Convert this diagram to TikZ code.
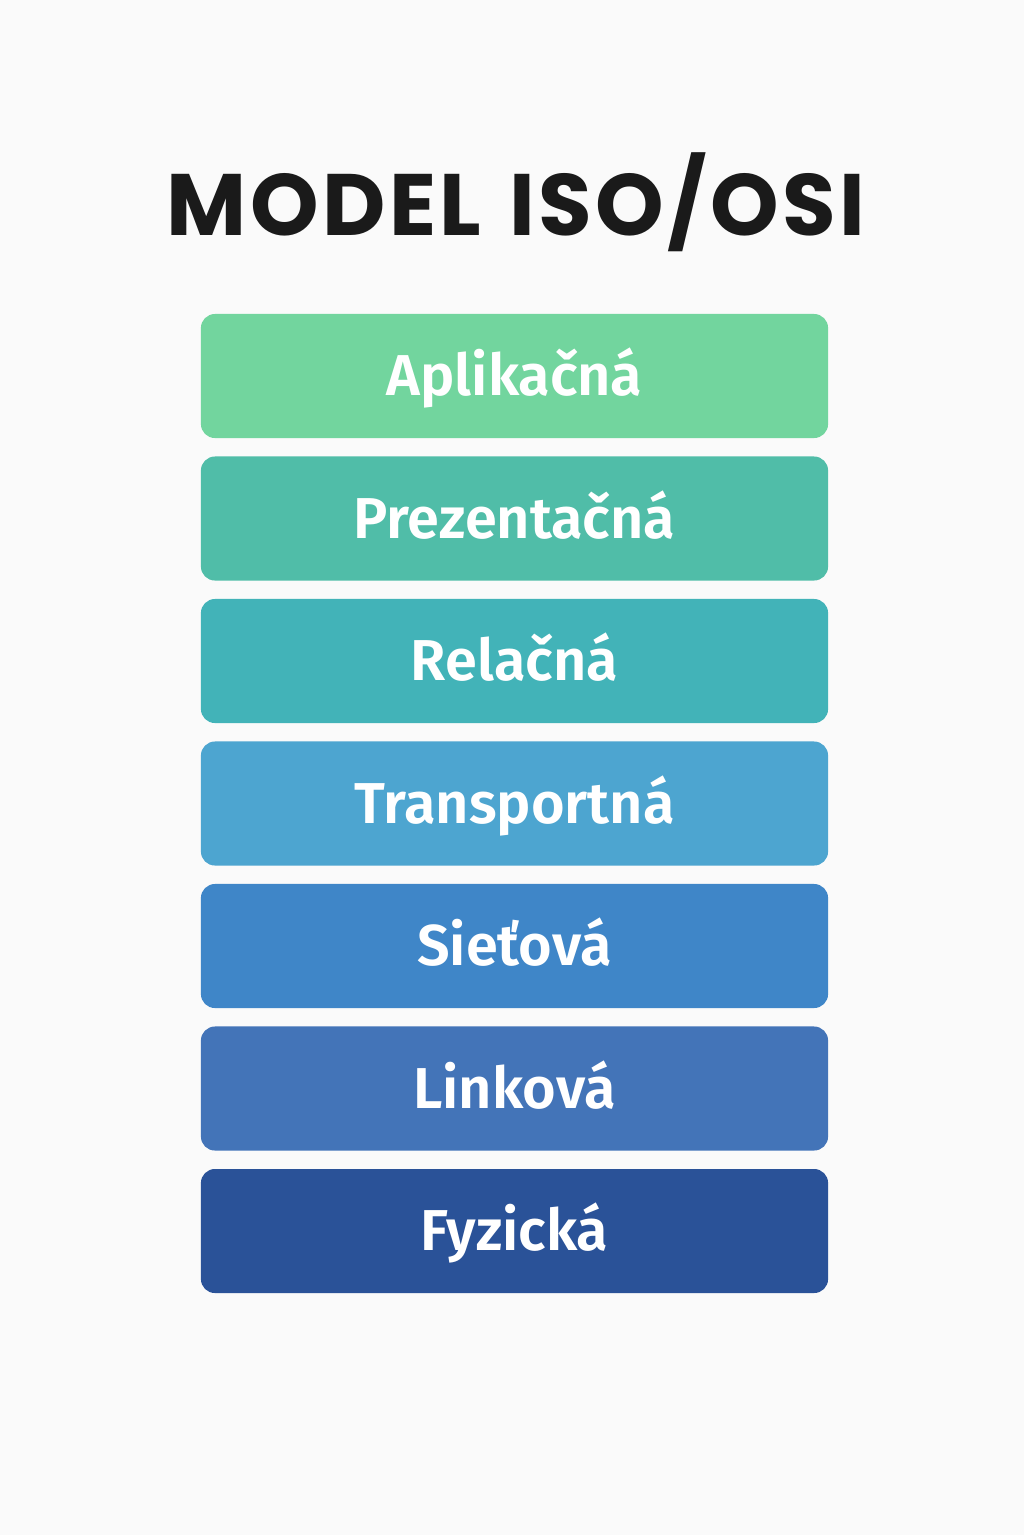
\documentclass[tikz,border=0pt]{standalone}
\usepackage{fontspec}
\setmainfont{Fira Sans}[UprightFont=* Medium, BoldFont=* SemiBold]
\newfontfamily\titlefont{Poppins}[UprightFont=* Bold, LetterSpace=4]
\usetikzlibrary{positioning}

\definecolor{pagebg}{HTML}{FAFAFA}
\definecolor{titleink}{HTML}{1A1A1A}
\definecolor{layA}{HTML}{72D59E}
\definecolor{layB}{HTML}{50BDA8}
\definecolor{layC}{HTML}{42B3B8}
\definecolor{layD}{HTML}{4DA5D0}
\definecolor{layE}{HTML}{3F86C8}
\definecolor{layF}{HTML}{4374B8}
\definecolor{layG}{HTML}{2A5298}

\tikzset{
	layerbox/.style={rectangle, rounded corners=0.35cm, draw=none, text=white,
		minimum width=15.675cm, minimum height=3.1cm, inner sep=0pt,
		text height=28pt, text depth=0pt,
		font=\bfseries\fontsize{41}{45}\selectfont},
	heading/.style={text=titleink, inner sep=0pt, anchor=base,
		font=\titlefont\fontsize{62}{68}\selectfont}
}

\begin{document}
\begin{tikzpicture}[x=0.025cm, y=-0.025cm]
	
	\fill[pagebg] (0,0) rectangle (1024,1535);
	
	\node [heading] (title) at (516, 235) {MODEL\hspace{4pt} ISO/OSI};
	
	\foreach \i/\name/\col in {1/Aplikačná/layA, 2/Prezentačná/layB, 3/Relačná/layC, 4/Transportná/layD, 5/Sieťová/layE, 6/Linková/layF, 7/Fyzická/layG}
	{
		\node [layerbox, fill=\col] (layer\i) at (514.5, {376+142.5*(\i-1)}) {\name};
	}
	
\end{tikzpicture}
\end{document}
